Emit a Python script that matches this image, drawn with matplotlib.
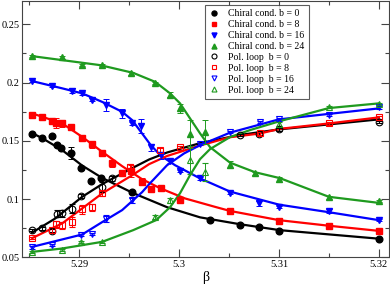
import numpy as np
import matplotlib
matplotlib.use('Agg')
import matplotlib.pyplot as plt
from matplotlib.ticker import MultipleLocator, FixedFormatter, FixedLocator

plt.rcParams['font.family'] = ['Liberation Serif', 'DejaVu Serif']

# ---- chiral condensate, data points ----
chi0_beta = [5.2853, 5.2863, 5.2873, 5.2878, 5.2882, 5.2892, 5.2902, 5.2912, 5.2922,
             5.2953, 5.3031, 5.3061, 5.3080, 5.3100, 5.3200]
chi0_val = [0.1555, 0.1521, 0.1538, 0.1461, 0.1435, 0.1397, 0.1263, 0.1154, 0.1178,
            0.1058, 0.0825, 0.0781, 0.0763, 0.0730, 0.0660]
chi0_err = [0.001, 0.001, 0.001, 0.001, 0.001, 0.005, 0.001, 0.001, 0.001,
            0.001, 0.001, 0.001, 0.001, 0.001, 0.001]

chi8_beta = [5.2853, 5.2863, 5.2873, 5.2877, 5.2883, 5.2892, 5.2903, 5.2913, 5.2923, 5.2933,
             5.2943, 5.2952, 5.2963, 5.2972, 5.2982, 5.3001, 5.3051, 5.3100, 5.3150, 5.3200]
chi8_val = [0.1725, 0.1706, 0.1673, 0.1652, 0.1649, 0.1620, 0.1521, 0.1472, 0.1394, 0.1306,
            0.1220, 0.1240, 0.1148, 0.1086, 0.1092, 0.0997, 0.0899, 0.0811, 0.0774, 0.0728]
chi8_err = [0.001, 0.001, 0.001, 0.004, 0.003, 0.002, 0.001, 0.003, 0.002, 0.003,
            0.002, 0.005, 0.003, 0.002, 0.002, 0.001, 0.001, 0.001, 0.001, 0.001]

chi16_beta = [5.2853, 5.2873, 5.2893, 5.2903, 5.2913, 5.2927, 5.2943, 5.2953, 5.2962, 5.2972,
              5.2982, 5.2991, 5.3001, 5.3021, 5.3051, 5.3080, 5.3100, 5.3150, 5.3200]
chi16_val = [0.2012, 0.1969, 0.1931, 0.1907, 0.1853, 0.1810, 0.1735, 0.1649, 0.1623, 0.1443,
             0.1377, 0.1326, 0.1240, 0.1178, 0.1057, 0.0963, 0.0934, 0.0897, 0.0820]
chi16_err = [0.001, 0.001, 0.002, 0.001, 0.001, 0.005, 0.004, 0.001, 0.006, 0.003,
             0.003, 0.002, 0.001, 0.001, 0.001, 0.002, 0.001, 0.002, 0.001]

chi24_beta = [5.2853, 5.2883, 5.2903, 5.2923, 5.2952, 5.2976, 5.2991, 5.3001, 5.3011,
              5.3026, 5.3051, 5.3076, 5.3100, 5.3150, 5.3200]
chi24_val = [0.2226, 0.2215, 0.2149, 0.2149, 0.2078, 0.1997, 0.1895, 0.1780, 0.1562,
             0.1577, 0.1296, 0.1220, 0.1169, 0.1015, 0.0983]
chi24_err = [0.001, 0.001, 0.001, 0.001, 0.001, 0.001, 0.002, 0.004, 0.012,
             0.010, 0.003, 0.001, 0.002, 0.001, 0.001]

# ---- Polyakov loop, data points ----
pol0_beta = [5.2853, 5.2863, 5.2873, 5.2878, 5.2883, 5.2893, 5.2902, 5.2923, 5.2933,
             5.3061, 5.3080, 5.3100, 5.3200]
pol0_val = [0.0734, 0.0749, 0.0730, 0.0876, 0.0877, 0.0917, 0.1026, 0.1105, 0.1178,
            0.1549, 0.1562, 0.1598, 0.1663]
pol0_err = [0.001, 0.001, 0.001, 0.003, 0.003, 0.004, 0.002, 0.004, 0.002,
            0.001, 0.001, 0.001, 0.001]

pol8_beta = [5.2853, 5.2873, 5.2877, 5.2883, 5.2893, 5.2903, 5.2913, 5.2923, 5.2951,
             5.2981, 5.3001, 5.3081, 5.3150, 5.3200]
pol8_val = [0.0666, 0.0734, 0.0786, 0.0777, 0.0803, 0.0914, 0.0932, 0.1049, 0.1274,
            0.1420, 0.1449, 0.1563, 0.1649, 0.1701]
pol8_err = [0.001, 0.002, 0.003, 0.003, 0.004, 0.004, 0.003, 0.002, 0.003,
            0.002, 0.001, 0.001, 0.001, 0.001]

pol16_beta = [5.2853, 5.2873, 5.2902, 5.2913, 5.2927, 5.2953, 5.3021, 5.3051, 5.3081,
              5.3100, 5.3150, 5.3200]
pol16_val = [0.0586, 0.0605, 0.0691, 0.0700, 0.0834, 0.0991, 0.1472, 0.1577, 0.1663,
             0.1684, 0.1721, 0.1786]
pol16_err = [0.001, 0.001, 0.001, 0.001, 0.003, 0.002, 0.001, 0.001, 0.001,
             0.001, 0.001, 0.001]

pol24_beta = [5.2853, 5.2883, 5.2902, 5.2923, 5.2976, 5.2991, 5.3011, 5.3026, 5.3100,
              5.3150, 5.3200]
pol24_val = [0.0548, 0.0563, 0.0634, 0.0634, 0.0848, 0.0991, 0.1334, 0.1234, 0.1643,
             0.1792, 0.1815]
pol24_err = [0.001, 0.001, 0.001, 0.001, 0.002, 0.002, 0.012, 0.008, 0.002,
             0.001, 0.001]

# ---- reweighted curves ----
chi0_cb = [5.2853, 5.2863, 5.2883, 5.2903, 5.2923, 5.2954, 5.2988, 5.3021, 5.3061, 5.3101, 5.3200]
chi0_cv = [0.1566, 0.1523, 0.1420, 0.1288, 0.1182, 0.1052, 0.0931, 0.0844, 0.0785, 0.0734, 0.0661]

chi8_cb = [5.2853, 5.2883, 5.2903, 5.2923, 5.2943, 5.2963, 5.2981, 5.3006, 5.3036, 5.3051,
           5.3100, 5.3150, 5.3200]
chi8_cv = [0.1735, 0.1649, 0.1534, 0.1406, 0.1283, 0.1171, 0.1094, 0.1006, 0.0934, 0.0899,
           0.0820, 0.0772, 0.0728]

chi16_cb = [5.2853, 5.2883, 5.2903, 5.2923, 5.2943, 5.2953, 5.2963, 5.2971, 5.2981, 5.2996,
            5.3021, 5.3051, 5.3100, 5.3150, 5.3200]
chi16_cv = [0.2012, 0.1950, 0.1907, 0.1834, 0.1749, 0.1678, 0.1563, 0.1471, 0.1377, 0.1291,
            0.1178, 0.1065, 0.0953, 0.0888, 0.0820]

chi24_cb = [5.2853, 5.2921, 5.2954, 5.2976, 5.2991, 5.3001, 5.3011, 5.3021, 5.3031, 5.3051,
            5.3076, 5.3101, 5.3150, 5.3200]
chi24_cv = [0.2226, 0.2149, 0.2083, 0.2006, 0.1907, 0.1821, 0.1692, 0.1564, 0.1446, 0.1313,
            0.1231, 0.1180, 0.1020, 0.0968]

pol0_cb = [5.2853, 5.2876, 5.2903, 5.2923, 5.2954, 5.2970, 5.2988, 5.3021, 5.3060, 5.3100, 5.3200]
pol0_cv = [0.0714, 0.0834, 0.1020, 0.1129, 0.1270, 0.1340, 0.1400, 0.1480, 0.1549, 0.1598, 0.1684]

pol8_cb = [5.2853, 5.2883, 5.2923, 5.2954, 5.2970, 5.2988, 5.3021, 5.3051, 5.3081, 5.3101,
           5.3150, 5.3200]
pol8_cv = [0.0666, 0.0792, 0.1049, 0.1210, 0.1300, 0.1370, 0.1460, 0.1531, 0.1563, 0.1603,
           0.1649, 0.1701]

pol16_cb = [5.2853, 5.2903, 5.2923, 5.2943, 5.2963, 5.2971, 5.2988, 5.3005, 5.3021, 5.3051,
            5.3100, 5.3200]
pol16_cv = [0.0591, 0.0697, 0.0803, 0.0906, 0.1060, 0.1137, 0.1291, 0.1392, 0.1463, 0.1570,
            0.1684, 0.1778]

pol24_cb = [5.2853, 5.2883, 5.2923, 5.2954, 5.2977, 5.2991, 5.3001, 5.3011, 5.3021, 5.3031,
            5.3051, 5.3071, 5.3101, 5.3150, 5.3200]
pol24_cv = [0.0548, 0.0577, 0.0634, 0.0734, 0.0820, 0.0931, 0.1051, 0.1206, 0.1343, 0.1429,
            0.1532, 0.1592, 0.1669, 0.1781, 0.1821]

labels_chi = ['Chiral cond. b = 0', 'Chiral cond. b = 8', 'Chiral cond. b = 16', 'Chiral cond. b = 24']
labels_pol = ['Pol. loop  b = 0', 'Pol. loop  b = 8', 'Pol. loop  b = 16', 'Pol. loop  b = 24']

green = '#1f9a1f'
colors = ['black', 'red', 'blue', green]
markers = ['o', 's', 'v', '^']

fig = plt.figure(figsize=(3.9, 2.88), dpi=100)
ax = fig.add_axes([0.057, 0.106, 0.940, 0.891])

chi_data = [(chi0_beta, chi0_val, chi0_err), (chi8_beta, chi8_val, chi8_err),
            (chi16_beta, chi16_val, chi16_err), (chi24_beta, chi24_val, chi24_err)]
pol_data = [(pol0_beta, pol0_val, pol0_err), (pol8_beta, pol8_val, pol8_err),
            (pol16_beta, pol16_val, pol16_err), (pol24_beta, pol24_val, pol24_err)]
chi_curves = [(chi0_cb, chi0_cv), (chi8_cb, chi8_cv), (chi16_cb, chi16_cv), (chi24_cb, chi24_cv)]
pol_curves = [(pol0_cb, pol0_cv), (pol8_cb, pol8_cv), (pol16_cb, pol16_cv), (pol24_cb, pol24_cv)]

# reweighting curves
for (b, v), c in zip(chi_curves + pol_curves, colors + colors):
    ax.plot(b, v, color=c, lw=1.6, zorder=2)

handles = []
for (b, v, e), c, m in zip(chi_data, colors, markers):
    h = ax.errorbar(b, v, yerr=e, fmt=m, color=c, ms=4.8, elinewidth=0.7,
                    capsize=2, capthick=0.7, zorder=3)
    handles.append(h[0])
for (b, v, e), c, m in zip(pol_data, colors, markers):
    h = ax.errorbar(b, v, yerr=e, fmt=m, color=c, mfc='none', mec=c, ms=4.8, mew=0.8,
                    elinewidth=0.7, capsize=2, capthick=0.7, zorder=3)
    handles.append(h[0])

ax.set_xlim(5.2843, 5.3210)
ax.set_ylim(0.05, 0.27)

ax.xaxis.set_major_locator(FixedLocator([5.29, 5.30, 5.31, 5.32]))
ax.xaxis.set_major_formatter(FixedFormatter(['5.29', '5.3', '5.31', '5.32']))
ax.xaxis.set_minor_locator(MultipleLocator(0.005))
ax.yaxis.set_major_locator(FixedLocator([0.05, 0.10, 0.15, 0.20, 0.25]))
ax.yaxis.set_major_formatter(FixedFormatter(['0.05', '0.1', '0.15', '0.2', '0.25']))
ax.yaxis.set_minor_locator(MultipleLocator(0.025))
ax.tick_params(which='both', direction='in', top=True, right=True, labelsize=7.5,
               color='#444444', pad=2)
ax.tick_params(which='major', length=6, width=0.8)
ax.tick_params(which='minor', length=3, width=0.8)
for s in ax.spines.values():
    s.set_color('#444444')
    s.set_linewidth(0.8)

ax.set_xlabel('β', fontsize=10, labelpad=1)

leg = ax.legend(handles=handles, labels=labels_chi + labels_pol,
                loc='upper left', bbox_to_anchor=(0.499, 0.985), fontsize=7,
                frameon=True, fancybox=False, handlelength=1.0, handletextpad=0.9,
                labelspacing=0.2, borderpad=0.45, borderaxespad=0, markerscale=0.75)
leg.get_frame().set_edgecolor('#333333')
leg.get_frame().set_linewidth(0.8)

fig.savefig('out.png', dpi=100)
